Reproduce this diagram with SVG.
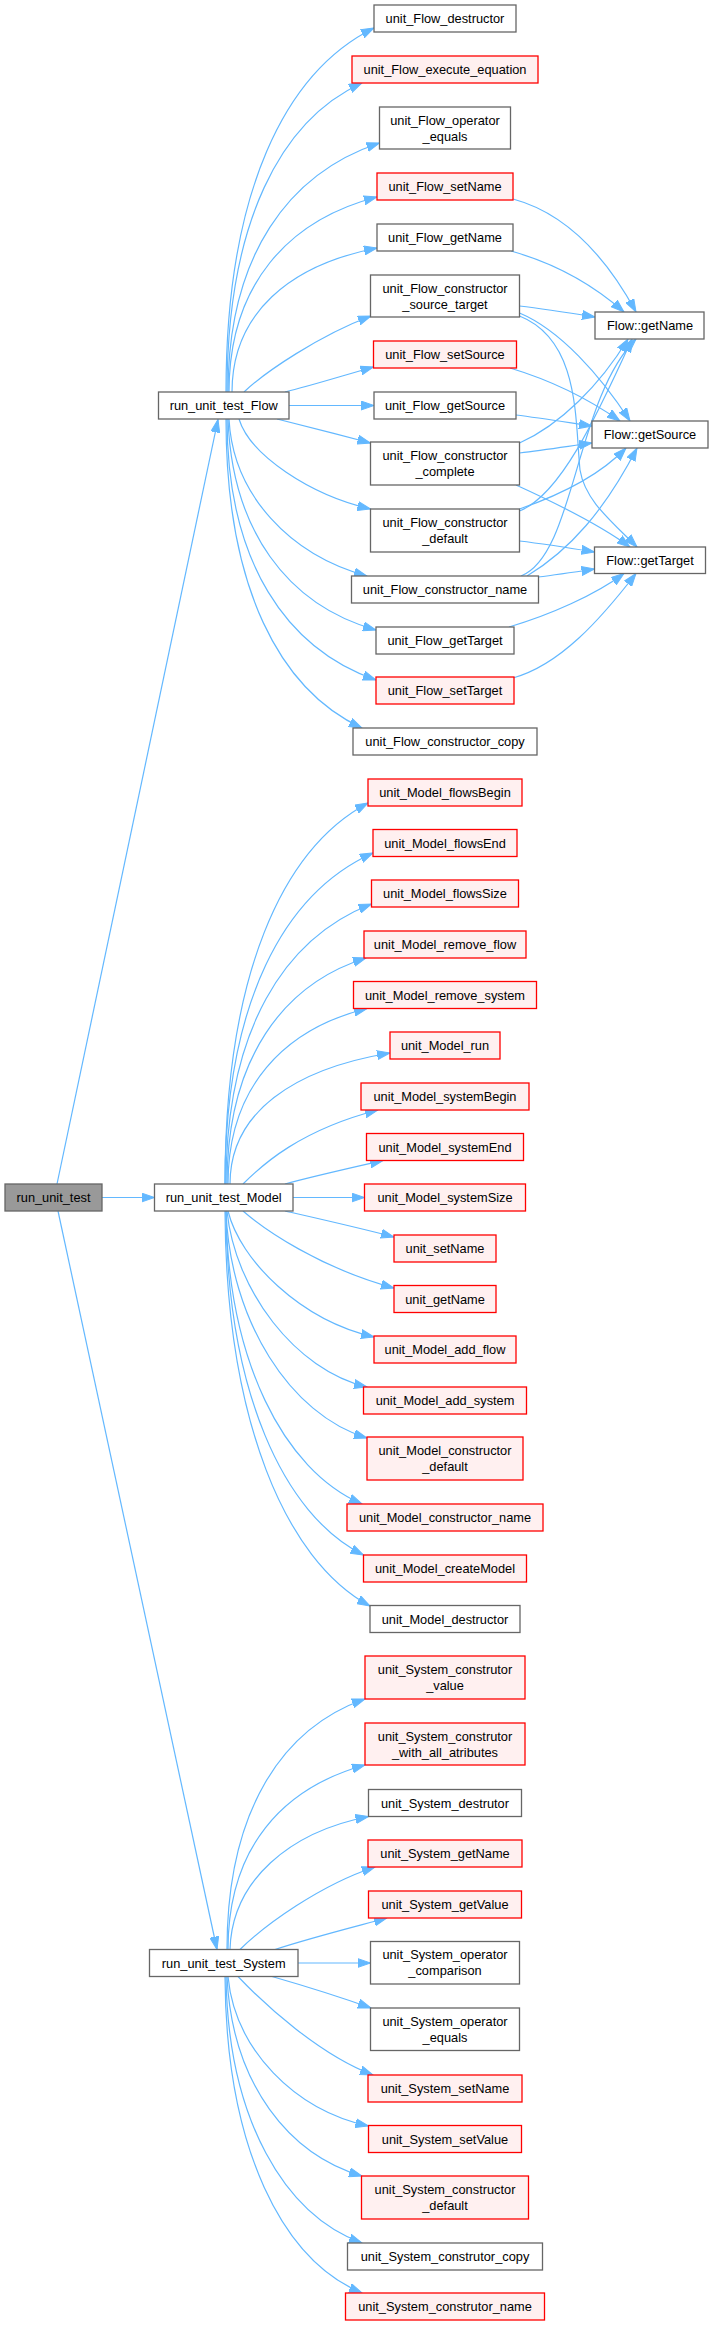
<svg xmlns="http://www.w3.org/2000/svg" width="713" height="2325" viewBox="0 0 713 2325">
<style>
.n rect{fill:#ffffff;stroke:#666666;stroke-width:1.3}
.r rect{fill:#fff0f0;stroke:#ff0000;stroke-width:1.3}
.g rect{fill:#999999;stroke:#666666;stroke-width:1.3}
text{font-family:"Liberation Sans",Arial,Helvetica,sans-serif;font-size:12.8px;fill:#000;text-anchor:middle}
#edges path{fill:none;stroke:#63b8ff;stroke-width:1.2;marker-end:url(#a)}
</style>
<defs>
<marker id="a" viewBox="0 0 14 10" markerWidth="14" markerHeight="10" refX="13" refY="5" orient="auto" markerUnits="userSpaceOnUse">
<path d="M0,0.5 L13,5 L0,9.5 z" fill="#63b8ff" stroke="#63b8ff" stroke-width="1"/>
</marker>
</defs>
<rect x="0" y="0" width="713" height="2325" fill="#ffffff"/>
<g id="edges">
<path d="M57,1184 L218,419.5"/>
<path d="M102,1197.5 L154.5,1197.5"/>
<path d="M58,1211 L217,1949.5"/>
<path d="M226,392 C226,192 285,72 374,28"/>
<path d="M227,392 C227,222 281,120 362,83"/>
<path d="M228,392 C228,255 289,173 379.5,143"/>
<path d="M229,392 C229,285 288,220 377,197"/>
<path d="M232,392 C232,313 290,265 377,248"/>
<path d="M244,392 C265,372 320,335 371,316"/>
<path d="M285,392 C310,386 345,375 373.5,367"/>
<path d="M289,405.5 L374,405.5"/>
<path d="M277,419 C305,426 340,435 370.5,443"/>
<path d="M239,419 C250,455 310,495 370.5,509"/>
<path d="M229,419 C233,495 290,555 367,576"/>
<path d="M228,419 C232,530 287,605 376,630"/>
<path d="M227,419 C227,563 287,649 376,680"/>
<path d="M226,419 C226,588 280,690 362,728"/>
<path d="M513,199 C565,213 605,255 636,312"/>
<path d="M511,251 C550,262 590,282 624,312"/>
<path d="M519.5,306 C545,309 570,313 595,317"/>
<path d="M519.5,313 C560,330 600,375 630,421"/>
<path d="M519.5,316 C580,340 575,420 580,470 C585,500 610,520 637,547"/>
<path d="M510,368 C550,380 590,400 620,421"/>
<path d="M516,415 C540,418 565,422 592,426"/>
<path d="M519.5,443 C560,425 600,385 628,339"/>
<path d="M519.5,453 C545,450 570,446 592,443"/>
<path d="M516,485 C560,505 600,525 630,547"/>
<path d="M519.5,511 C560,495 595,420 632,339"/>
<path d="M519.5,509 C560,495 600,475 626,448"/>
<path d="M519.5,541 C545,544 570,548 594.5,552"/>
<path d="M521,576 C575,555 575,400 636,339"/>
<path d="M527,576 C570,550 605,510 637,448"/>
<path d="M538,577 C555,575 575,572 594.5,569"/>
<path d="M509,627 C550,615 595,595 624,573.5"/>
<path d="M513,678 C560,665 600,620 636,573.5"/>
<path d="M225,1184 C225,975 282,849 368,803"/>
<path d="M225,1184 C225,1002 284,893 373,853"/>
<path d="M226,1184 C226,1030 284,938 371.5,904"/>
<path d="M227,1184 C227,1059 283,984 366,958"/>
<path d="M228,1184 C228,1087 284,1029 367,1008.5"/>
<path d="M230,1184 C230,1112 294,1069 390,1053"/>
<path d="M243,1184 C262,1165 300,1130 378,1110"/>
<path d="M285,1184 C310,1177 350,1168 383,1160.5"/>
<path d="M293,1197.5 L364.5,1197.5"/>
<path d="M285,1211 C320,1219 360,1228 394,1237"/>
<path d="M243,1211 C265,1230 320,1268 394,1288"/>
<path d="M228,1211 C240,1260 300,1320 374,1337"/>
<path d="M227,1211 C235,1290 295,1370 367,1387"/>
<path d="M226,1211 C230,1320 290,1415 367,1438"/>
<path d="M226,1211 C228,1360 283,1470 362,1504"/>
<path d="M226,1211 C227,1390 283,1515 363.5,1555"/>
<path d="M225,1211 C226,1420 285,1560 370,1606"/>
<path d="M227,1949.5 C227,1811 282,1728 365,1699"/>
<path d="M228,1949.5 C228,1848 282,1788 365,1765"/>
<path d="M230,1949.5 C232,1880 290,1832 368.5,1816.5"/>
<path d="M240,1949.5 C265,1925 320,1885 375,1867"/>
<path d="M275,1949.5 C310,1938 350,1928 387,1918"/>
<path d="M298,1963 L370.5,1963"/>
<path d="M272,1976.5 C305,1986 340,1997 371,2008"/>
<path d="M238,1976.5 C265,2005 320,2055 373,2075"/>
<path d="M228,1976.5 C235,2050 295,2110 368.5,2126"/>
<path d="M227,1976.5 C232,2085 290,2155 362,2176"/>
<path d="M226,1976.5 C228,2120 285,2215 362,2243"/>
<path d="M225,1976.5 C226,2150 283,2260 362,2293"/>
</g>
<g id="run_unit_test" class="g"><rect x="5" y="1184" width="97" height="27"/><text x="53.5" y="1202">run_unit_test</text></g>
<g id="run_unit_test_Flow" class="n"><rect x="158.5" y="392" width="130.5" height="27"/><text x="223.7" y="410">run_unit_test_Flow</text></g>
<g id="run_unit_test_Model" class="n"><rect x="154.5" y="1184" width="138.5" height="27"/><text x="223.7" y="1202">run_unit_test_Model</text></g>
<g id="run_unit_test_System" class="n"><rect x="149.5" y="1949.5" width="148.5" height="27"/><text x="223.7" y="1967.5">run_unit_test_System</text></g>

<g id="unit_Flow_destructor" class="n"><rect x="374" y="5" width="142" height="27"/><text x="445" y="23">unit_Flow_destructor</text></g>
<g id="unit_Flow_execute_equation" class="r"><rect x="352" y="56" width="186" height="27"/><text x="445" y="74">unit_Flow_execute_equation</text></g>
<g id="unit_Flow_operator_equals" class="n"><rect x="379.5" y="107" width="131" height="42"/><text x="445" y="124.5">unit_Flow_operator</text><text x="445" y="140.5">_equals</text></g>
<g id="unit_Flow_setName" class="r"><rect x="377" y="173" width="136" height="27"/><text x="445" y="191">unit_Flow_setName</text></g>
<g id="unit_Flow_getName" class="n"><rect x="377" y="224" width="136" height="27"/><text x="445" y="242">unit_Flow_getName</text></g>
<g id="unit_Flow_constructor_source_target" class="n"><rect x="370.5" y="275" width="149" height="42"/><text x="445" y="292.5">unit_Flow_constructor</text><text x="445" y="308.5">_source_target</text></g>
<g id="unit_Flow_setSource" class="r"><rect x="373.5" y="341" width="143" height="27"/><text x="445" y="359">unit_Flow_setSource</text></g>
<g id="unit_Flow_getSource" class="n"><rect x="374" y="392" width="142" height="27"/><text x="445" y="410">unit_Flow_getSource</text></g>
<g id="unit_Flow_constructor_complete" class="n"><rect x="370.5" y="442" width="149" height="43"/><text x="445" y="460">unit_Flow_constructor</text><text x="445" y="476">_complete</text></g>
<g id="unit_Flow_constructor_default" class="n"><rect x="370.5" y="509" width="149" height="43"/><text x="445" y="527">unit_Flow_constructor</text><text x="445" y="543">_default</text></g>
<g id="unit_Flow_constructor_name" class="n"><rect x="351.5" y="576" width="187" height="27"/><text x="445" y="594">unit_Flow_constructor_name</text></g>
<g id="unit_Flow_getTarget" class="n"><rect x="376" y="627" width="138" height="27"/><text x="445" y="645">unit_Flow_getTarget</text></g>
<g id="unit_Flow_setTarget" class="r"><rect x="376" y="677" width="138" height="27"/><text x="445" y="695">unit_Flow_setTarget</text></g>
<g id="unit_Flow_constructor_copy" class="n"><rect x="353" y="728" width="184" height="27"/><text x="445" y="746">unit_Flow_constructor_copy</text></g>

<g id="Flow_getName" class="n"><rect x="595" y="312" width="109" height="27"/><text x="650" y="330">Flow::getName</text></g>
<g id="Flow_getSource" class="n"><rect x="592" y="421" width="116" height="27"/><text x="650" y="439">Flow::getSource</text></g>
<g id="Flow_getTarget" class="n"><rect x="594.5" y="547" width="111" height="26.5"/><text x="650" y="565">Flow::getTarget</text></g>

<g id="unit_Model_flowsBegin" class="r"><rect x="368" y="779" width="154" height="27"/><text x="445" y="797">unit_Model_flowsBegin</text></g>
<g id="unit_Model_flowsEnd" class="r"><rect x="373" y="829.5" width="144" height="27"/><text x="445" y="847.5">unit_Model_flowsEnd</text></g>
<g id="unit_Model_flowsSize" class="r"><rect x="371.5" y="880" width="147" height="27"/><text x="445" y="898">unit_Model_flowsSize</text></g>
<g id="unit_Model_remove_flow" class="r"><rect x="364" y="931" width="162" height="27"/><text x="445" y="949">unit_Model_remove_flow</text></g>
<g id="unit_Model_remove_system" class="r"><rect x="353.5" y="981.5" width="183" height="27"/><text x="445" y="999.5">unit_Model_remove_system</text></g>
<g id="unit_Model_run" class="r"><rect x="390" y="1032" width="110" height="27"/><text x="445" y="1050">unit_Model_run</text></g>
<g id="unit_Model_systemBegin" class="r"><rect x="361" y="1083" width="168" height="27"/><text x="445" y="1101">unit_Model_systemBegin</text></g>
<g id="unit_Model_systemEnd" class="r"><rect x="366.5" y="1133.5" width="157" height="27"/><text x="445" y="1151.5">unit_Model_systemEnd</text></g>
<g id="unit_Model_systemSize" class="r"><rect x="364.5" y="1184" width="161" height="27"/><text x="445" y="1202">unit_Model_systemSize</text></g>
<g id="unit_setName" class="r"><rect x="394" y="1235" width="102" height="27"/><text x="445" y="1253">unit_setName</text></g>
<g id="unit_getName" class="r"><rect x="394" y="1285.5" width="102" height="27"/><text x="445" y="1303.5">unit_getName</text></g>
<g id="unit_Model_add_flow" class="r"><rect x="374" y="1336" width="142" height="27"/><text x="445" y="1354">unit_Model_add_flow</text></g>
<g id="unit_Model_add_system" class="r"><rect x="363.5" y="1387" width="163" height="27"/><text x="445" y="1405">unit_Model_add_system</text></g>
<g id="unit_Model_constructor_default" class="r"><rect x="367" y="1437" width="156" height="43"/><text x="445" y="1455">unit_Model_constructor</text><text x="445" y="1471">_default</text></g>
<g id="unit_Model_constructor_name" class="r"><rect x="347" y="1504" width="196" height="27"/><text x="445" y="1522">unit_Model_constructor_name</text></g>
<g id="unit_Model_createModel" class="r"><rect x="363.5" y="1555" width="163" height="27"/><text x="445" y="1573">unit_Model_createModel</text></g>
<g id="unit_Model_destructor" class="n"><rect x="370" y="1605.5" width="150" height="27"/><text x="445" y="1623.5">unit_Model_destructor</text></g>

<g id="unit_System_construtor_value" class="r"><rect x="365" y="1656" width="160" height="43"/><text x="445" y="1674">unit_System_construtor</text><text x="445" y="1690">_value</text></g>
<g id="unit_System_construtor_with_all_atributes" class="r"><rect x="365" y="1723" width="160" height="42"/><text x="445" y="1740.5">unit_System_construtor</text><text x="445" y="1756.5">_with_all_atributes</text></g>
<g id="unit_System_destrutor" class="n"><rect x="368.5" y="1789.5" width="153" height="27"/><text x="445" y="1807.5">unit_System_destrutor</text></g>
<g id="unit_System_getName" class="r"><rect x="368" y="1840" width="154" height="27"/><text x="445" y="1858">unit_System_getName</text></g>
<g id="unit_System_getValue" class="r"><rect x="368.5" y="1891" width="153" height="27"/><text x="445" y="1909">unit_System_getValue</text></g>
<g id="unit_System_operator_comparison" class="n"><rect x="370.5" y="1941.5" width="149" height="42.5"/><text x="445" y="1959">unit_System_operator</text><text x="445" y="1975">_comparison</text></g>
<g id="unit_System_operator_equals" class="n"><rect x="370.5" y="2008" width="149" height="42.5"/><text x="445" y="2025.5">unit_System_operator</text><text x="445" y="2041.5">_equals</text></g>
<g id="unit_System_setName" class="r"><rect x="368" y="2075" width="154" height="27"/><text x="445" y="2093">unit_System_setName</text></g>
<g id="unit_System_setValue" class="r"><rect x="368.5" y="2125.5" width="153" height="27"/><text x="445" y="2143.5">unit_System_setValue</text></g>
<g id="unit_System_constructor_default" class="r"><rect x="361.5" y="2176" width="167" height="43"/><text x="445" y="2194">unit_System_constructor</text><text x="445" y="2210">_default</text></g>
<g id="unit_System_construtor_copy" class="n"><rect x="347.5" y="2243" width="195" height="27"/><text x="445" y="2261">unit_System_construtor_copy</text></g>
<g id="unit_System_construtor_name" class="r"><rect x="345.5" y="2293" width="199" height="27"/><text x="445" y="2311">unit_System_construtor_name</text></g>
</svg>
